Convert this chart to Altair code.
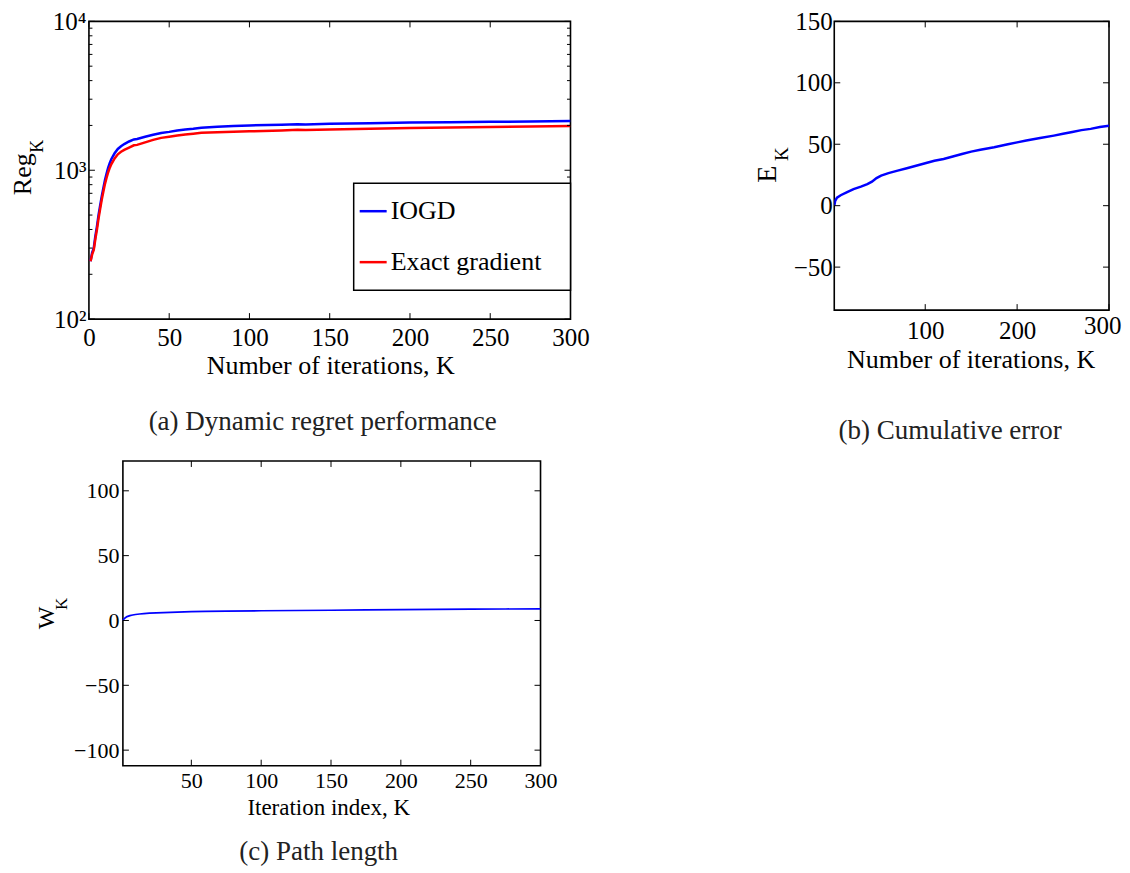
import altair as alt
import pandas as pd

FONT = "Liberation Serif"

# ---------------- data ----------------
a_k = [1, 2, 3, 4, 5, 6, 7, 8, 9, 10, 11, 12, 13, 14, 16, 18, 20, 22, 25, 28, 30,
       35, 40, 45, 50, 55, 60, 65, 70, 80, 90, 100, 120, 130, 135, 150, 175, 200,
       225, 250, 275, 300]
a_iogd = [245, 280, 300, 360, 420, 500, 580, 670, 760, 860, 950, 1040, 1120, 1190,
          1300, 1390, 1450, 1500, 1560, 1610, 1620, 1680, 1730, 1780, 1810, 1850,
          1880, 1900, 1930, 1960, 1980, 2000, 2020, 2040, 2030, 2050, 2070, 2090,
          2100, 2115, 2125, 2140]
a_exact = [245, 272, 292, 345, 400, 475, 550, 635, 720, 810, 890, 970, 1040, 1100,
           1200, 1280, 1330, 1370, 1420, 1470, 1480, 1540, 1600, 1650, 1680, 1710,
           1740, 1760, 1785, 1800, 1815, 1825, 1850, 1870, 1860, 1880, 1900, 1925,
           1940, 1955, 1965, 1980]
a_series = ["IOGD", "Exact gradient"]
a_colors = ["#0000ff", "#ff0000"]
a_xticks = [0, 50, 100, 150, 200, 250, 300]
a_yticks = [100, 1000, 10000]
a_yminor = [200, 300, 400, 500, 600, 700, 800, 900,
            2000, 3000, 4000, 5000, 6000, 7000, 8000, 9000]

b_k = [1, 2, 4, 8, 15, 22, 30, 37, 42, 47, 52, 60, 70, 80, 90, 100, 110, 120, 130,
       140, 150, 160, 175, 190, 200, 210, 225, 240, 250, 260, 270, 280, 290, 300]
b_e = [0, 4, 6.5, 8.5, 11, 13.5, 15.5, 17.5, 19.5, 22.5, 24.5, 26.5, 28.5, 30.5,
       32.5, 34.5, 36.5, 38, 40, 42, 44, 45.5, 47.5, 50, 51.5, 53, 55, 57, 58.5, 60,
       61.5, 62.5, 64, 65]
b_xticks = [100, 200, 300]
b_yticks = [-50, 0, 50, 100, 150]

c_k = [1, 2, 3, 4, 6, 8, 10, 13, 16, 20, 25, 30, 40, 50, 60, 75, 100, 125, 150,
       175, 200, 225, 250, 275, 300]
c_w = [0, 1.5, 2.3, 3, 3.7, 4.2, 4.6, 5, 5.3, 5.6, 5.9, 6.1, 6.5, 6.8, 7.0, 7.2,
       7.5, 7.7, 7.9, 8.1, 8.3, 8.5, 8.7, 8.85, 9]
c_xticks = [50, 100, 150, 200, 250, 300]
c_yticks = [-100, -50, 0, 50, 100]

captions = ["(a) Dynamic regret performance", "(b) Cumulative error", "(c) Path length"]
x_titles = ["Number of iterations, K", "Number of iterations, K", "Iteration index, K"]

# ---------------- layout constants ----------------
WA, HA = 482, 298
WB, HB = 275, 289
C_SHIFT, WC_PLOT, HC = 34, 418, 305
WC = C_SHIFT + WC_PLOT
MAJ, MIN = 6, 3.5


def txt(s, x, y, size, angle=0, align="center", color="black"):
    kw = dict(font=FONT, fontSize=size, align=align, baseline="middle", color=color)
    if angle:
        kw["angle"] = angle
    return alt.Chart(pd.DataFrame({"t": [s]})).mark_text(**kw).encode(
        x=alt.value(x), y=alt.value(y), text="t:N")


def xticks(vals, field, xenc, h, length):
    df = pd.DataFrame({field: vals})
    top = alt.Chart(df).mark_rule(color="black", strokeWidth=1).encode(
        x=xenc, y=alt.value(0), y2=alt.value(length))
    bot = alt.Chart(df).mark_rule(color="black", strokeWidth=1).encode(
        x=xenc, y=alt.value(h), y2=alt.value(h - length))
    return [top, bot]


def yticks(vals, field, yenc, x_left, x_right, length):
    df = pd.DataFrame({field: vals})
    left = alt.Chart(df).mark_rule(color="black", strokeWidth=1).encode(
        y=yenc, x=alt.value(x_left), x2=alt.value(x_left + length))
    right = alt.Chart(df).mark_rule(color="black", strokeWidth=1).encode(
        y=yenc, x=alt.value(x_right), x2=alt.value(x_right - length))
    return [left, right]


def lab_axis(values, size, pad, **extra):
    return alt.Axis(values=values, ticks=False, domain=False, grid=False,
                    labelFont=FONT, labelFontSize=size, labelColor="black",
                    labelPadding=pad, labelOverlap=False,
                    title=None, **extra)


# ---------------- panel (a) ----------------
a_df = pd.DataFrame({
    "K": a_k * 2,
    "value": a_iogd + a_exact,
    "series": [a_series[0]] * len(a_k) + [a_series[1]] * len(a_k),
})
xa = alt.X("K:Q", scale=alt.Scale(domain=[0, 300], nice=False, zero=False),
           axis=lab_axis(a_xticks, 25, 6, labelFlush=False))
ya = alt.Y("value:Q", scale=alt.Scale(type="log", domain=[100, 10000], nice=False),
           axis=lab_axis(a_yticks, 25, 3, labelFlush=False,
                         labelExpr="datum.value == 100 ? '10²' : (datum.value == 1000 ? '10³' : '10⁴')"))
col_a = alt.Color("series:N", scale=alt.Scale(domain=a_series, range=a_colors), legend=None)

a_layers = []
for s in a_series:
    a_layers.append(
        alt.Chart(a_df).transform_filter(alt.datum.series == s)
        .mark_line(strokeWidth=2.5, clip=True)
        .encode(x=xa, y=ya, color=col_a)
    )
a_layers += xticks(a_xticks, "K", xa, HA, MAJ)
a_layers += yticks(a_yticks, "value", ya, 0, WA, MAJ)
a_layers += yticks(a_yminor, "value", ya, 0, WA, MIN)

# legend box
a_layers.append(
    alt.Chart(pd.DataFrame({"t": [0]})).mark_rect(fill="white", stroke="black", strokeWidth=1.5)
    .encode(x=alt.value(265), x2=alt.value(WA), y=alt.value(162), y2=alt.value(269))
)
for i, s in enumerate(a_series):
    yy = 190 + 51 * i
    a_layers.append(
        alt.Chart(pd.DataFrame({"series": [s]})).mark_rule(strokeWidth=2.5)
        .encode(x=alt.value(271), x2=alt.value(298), y=alt.value(yy), color=col_a)
    )
    a_layers.append(txt(s, 302, yy, 26, align="left"))

a_layers.append(txt("Reg", -66, 153, 26, angle=270))
a_layers.append(txt("K", -51, 125, 18, angle=270))
a_layers.append(txt(x_titles[0], 242, 345, 26))
a_layers.append(txt(captions[0], 234, 401, 27, color="#222222"))

panel_a = alt.layer(*a_layers).properties(width=WA, height=HA)

# ---------------- panel (b) ----------------
b_df = pd.DataFrame({"K": b_k, "value": b_e})
xb = alt.X("K:Q", scale=alt.Scale(domain=[1, 300], nice=False, zero=False),
           axis=lab_axis(b_xticks, 25,
                         {"condition": {"test": "datum.value == 300", "value": 3}, "value": 8},
                         labelFlush=True, labelFlushOffset=12))
yb = alt.Y("value:Q", scale=alt.Scale(domain=[-85, 150], nice=False, zero=False),
           axis=lab_axis(b_yticks, 25, 2, labelFlush=False))
b_layers = [
    alt.Chart(b_df).mark_line(strokeWidth=2.5, color="#0000ff", clip=True).encode(x=xb, y=yb)
]
b_layers += xticks(b_xticks, "K", xb, HB, MAJ)
b_layers += yticks(b_yticks, "value", yb, 0, WB, MAJ)
b_layers.append(txt("E", -66, 153, 28, angle=270))
b_layers.append(txt("K", -52, 133, 19, angle=270))
b_layers.append(txt(x_titles[1], 137, 339, 26))
b_layers.append(txt(captions[1], 116, 410, 27, color="#222222"))

panel_b = alt.layer(*b_layers).properties(width=WB, height=HB)

# ---------------- panel (c) ----------------
c_df = pd.DataFrame({"K": c_k, "value": c_w})
c_min = 1 - C_SHIFT * 299 / WC_PLOT
xc = alt.X("K:Q", scale=alt.Scale(domain=[c_min, 300], nice=False, zero=False),
           axis=lab_axis(c_xticks, 22, 5, labelFlush=False))
yc = alt.Y("value:Q", scale=alt.Scale(domain=[-112, 123], nice=False, zero=False),
           axis=lab_axis(c_yticks, 22, 4, labelFlush=False, offset=-C_SHIFT))
c_layers = [
    alt.Chart(pd.DataFrame({"t": [0]})).mark_rect(fillOpacity=0, stroke="black", strokeWidth=1.6)
    .encode(x=alt.value(C_SHIFT), x2=alt.value(WC), y=alt.value(0), y2=alt.value(HC)),
    alt.Chart(c_df).mark_line(strokeWidth=1.7, color="#0000ff", clip=True).encode(x=xc, y=yc),
]
c_layers += xticks(c_xticks, "K", xc, HC, MAJ)
c_layers += yticks(c_yticks, "value", yc, C_SHIFT, WC, MAJ)
c_layers.append(txt("W", -42, 157, 24, angle=270))
c_layers.append(txt("K", -27, 143, 17, angle=270))
c_layers.append(txt(x_titles[2], 240, 347, 23))
c_layers.append(txt(captions[2], 230, 391, 27, color="#222222"))

panel_c = alt.layer(*c_layers).properties(
    width=WC, height=HC, view=alt.ViewBackground(stroke="transparent"))

chart = alt.concat(
    panel_a, panel_b, panel_c, columns=2,
    spacing={"row": 142, "column": 264}, bounds="flush",
).properties(
    padding={"left": 1, "top": 0, "right": 0, "bottom": 0},
    background="white",
).configure_view(stroke="black", strokeWidth=1.6)

chart.save("out.html", embed_options={"renderer": "svg", "actions": False})
